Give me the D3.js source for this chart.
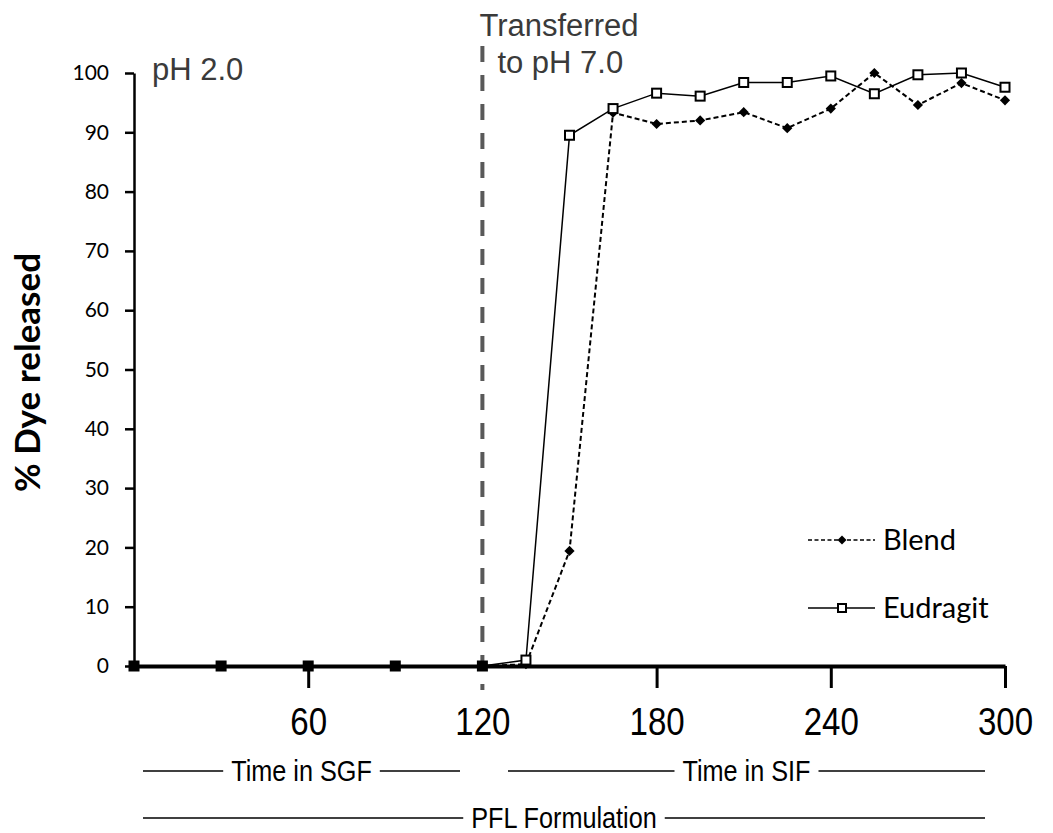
<!DOCTYPE html>
<html>
<head>
<meta charset="utf-8">
<script src="https://cdn.jsdelivr.net/npm/d3@7"></script>
<style>
  body { margin: 0; background: #fff; }
  svg { display: block; }
  .ytick text { font-family: Lato, "Open Sans", sans-serif; font-size: 21px; fill: #000; }
  .xtick text { font-family: "Liberation Sans", Arial, sans-serif; font-size: 38px; fill: #000; }
</style>
</head>
<body>
<svg id="chart"></svg>
<script>
// sampling times (min)
const times = [0, 30, 60, 90, 120, 135, 150, 165, 180, 195, 210, 225, 240, 255, 270, 285, 300];
// % dye released
const blend    = [0, 0, 0, 0, 0, 0.3, 19.4, 93.3, 91.4, 92.0, 93.4, 90.7, 94.0, 100.0, 94.6, 98.3, 95.4];
const eudragit = [0, 0, 0, 0, 0, 1.0, 89.5, 94.0, 96.6, 96.1, 98.4, 98.4, 99.5, 96.5, 99.7, 100.0, 97.6];
const seriesNames = ['Blend', 'Eudragit'];
const xTicks = [60, 120, 180, 240, 300];
const yTicks = [0, 10, 20, 30, 40, 50, 60, 70, 80, 90, 100];
const transferTime = 120;

const width = 1053, height = 833;
const margin = {top: 73, right: 48, bottom: 167, left: 134};
const squeeze = 0.87; // labels under the axis use a narrow face

const svg = d3.select('#chart')
    .attr('width', width)
    .attr('height', height);

const x = d3.scaleLinear().domain([0, 300]).range([margin.left, width - margin.right]);
const y = d3.scaleLinear().domain([0, 100]).range([height - margin.bottom, margin.top]);

// y axis
const yAxisG = svg.append('g')
    .attr('class', 'ytick')
    .attr('transform', `translate(${margin.left},0)`)
    .call(d3.axisLeft(y).tickValues(yTicks).tickSize(9).tickPadding(16).tickSizeOuter(0));
yAxisG.select('.domain').attr('stroke', '#000').attr('stroke-width', 2.5);
yAxisG.selectAll('.tick line').attr('stroke', '#000').attr('stroke-width', 2.5);

// transfer marker
svg.append('line')
    .attr('x1', x(transferTime)).attr('x2', x(transferTime))
    .attr('y1', 46).attr('y2', y(0) + 24)
    .attr('stroke', '#595959')
    .attr('stroke-width', 4)
    .attr('stroke-dasharray', '16,13');

const annot = svg.append('g')
    .attr('font-family', '"Liberation Sans", Arial, sans-serif')
    .attr('font-size', 31)
    .attr('fill', '#3a3a3a');
annot.append('text').attr('x', 152).attr('y', 80).text('pH 2.0');
annot.append('text').attr('x', x(transferTime) - 3).attr('y', 36).text('Transferred');
annot.append('text').attr('x', x(transferTime) + 15).attr('y', 73).text('to pH 7.0');

// series
const rows = times.map((t, i) => ({t, blend: blend[i], eudragit: eudragit[i]}));

const line = key => d3.line().x(d => x(d.t)).y(d => y(d[key]))(rows);

svg.append('path')
    .attr('d', line('eudragit'))
    .attr('fill', 'none').attr('stroke', '#000').attr('stroke-width', 1.5);
svg.append('path')
    .attr('d', line('blend'))
    .attr('fill', 'none').attr('stroke', '#000').attr('stroke-width', 2)
    .attr('stroke-dasharray', '5,3');

svg.selectAll('.blend-pt')
    .data(rows)
    .join('path')
    .attr('class', 'blend-pt')
    .attr('transform', d => `translate(${x(d.t)},${y(d.blend)}) rotate(45)`)
    .attr('d', d3.symbol().type(d3.symbolSquare).size(52))
    .attr('fill', '#000');

// squares sitting on the heavy baseline read as solid black
svg.selectAll('.eud-pt')
    .data(rows)
    .join('rect')
    .attr('class', 'eud-pt')
    .attr('x', d => x(d.t) - 4.5)
    .attr('y', d => y(d.eudragit) - 4.5)
    .attr('width', 9).attr('height', 9)
    .attr('fill', d => d.eudragit === 0 ? '#000' : '#fff')
    .attr('stroke', '#000').attr('stroke-width', 2);

const xAxisG = svg.append('g')
    .attr('class', 'xtick')
    .attr('transform', `translate(0,${y(0)})`)
    .call(d3.axisBottom(x).tickValues(xTicks).tickSize(22).tickPadding(20).tickSizeOuter(0));
xAxisG.select('.domain').attr('stroke', '#000').attr('stroke-width', 4);
xAxisG.selectAll('.tick line').attr('stroke', '#000').attr('stroke-width', 3);
xAxisG.selectAll('.tick text').attr('transform', `scale(${squeeze},1)`);
xAxisG.selectAll('.tick')
    .filter(d => d === transferTime)
    .select('line').attr('stroke', 'none');

// legend
const legend = svg.append('g')
    .attr('font-family', 'Lato, "Open Sans", sans-serif')
    .attr('font-size', 29);
seriesNames.forEach((name, i) => {
  const ly = 540 + i * 68;
  const g = legend.append('g').attr('transform', `translate(808,${ly})`);
  g.append('line').attr('x1', 0).attr('x2', 67).attr('y1', 0).attr('y2', 0)
      .attr('stroke', '#000').attr('stroke-width', 1.5)
      .attr('stroke-dasharray', i === 0 ? '4,2.5' : null);
  if (i === 0) {
    g.append('path').attr('transform', 'translate(34,0) rotate(45)')
        .attr('d', d3.symbol().type(d3.symbolSquare).size(40)).attr('fill', '#000');
  } else {
    g.append('rect').attr('x', 30).attr('y', -4).attr('width', 8).attr('height', 8)
        .attr('fill', '#fff').attr('stroke', '#000').attr('stroke-width', 2);
  }
  g.append('text').attr('x', 75).attr('y', 10).text(name);
});

// y title
svg.append('text')
    .attr('transform', `translate(40,${(y(0) + y(100)) / 2 + 3}) rotate(-90)`)
    .attr('text-anchor', 'middle')
    .attr('font-family', 'Lato, "Open Sans", sans-serif')
    .attr('font-weight', 'bold')
    .attr('font-size', 35)
    .text('% Dye released');

// bracket captions under the axis
const captions = [
  {text: 'Time in SGF', y: 771, x1: 143, x2: 460},
  {text: 'Time in SIF', y: 771, x1: 508, x2: 985},
  {text: 'PFL Formulation', y: 818, x1: 143, x2: 985}
];
const capG = svg.append('g')
    .attr('font-family', '"Liberation Sans", Arial, sans-serif')
    .attr('font-size', 29);
captions.forEach(c => {
  const mid = (c.x1 + c.x2) / 2;
  const t = capG.append('text')
      .attr('transform', `scale(${squeeze},1)`)
      .attr('x', mid / squeeze).attr('y', c.y + 10)
      .attr('text-anchor', 'middle').text(c.text);
  const w = t.node().getComputedTextLength() * squeeze;
  capG.append('line').attr('x1', c.x1).attr('x2', mid - w / 2 - 8)
      .attr('y1', c.y).attr('y2', c.y).attr('stroke', '#000').attr('stroke-width', 1.5);
  capG.append('line').attr('x1', mid + w / 2 + 8).attr('x2', c.x2)
      .attr('y1', c.y).attr('y2', c.y).attr('stroke', '#000').attr('stroke-width', 1.5);
});
</script>
</body>
</html>
